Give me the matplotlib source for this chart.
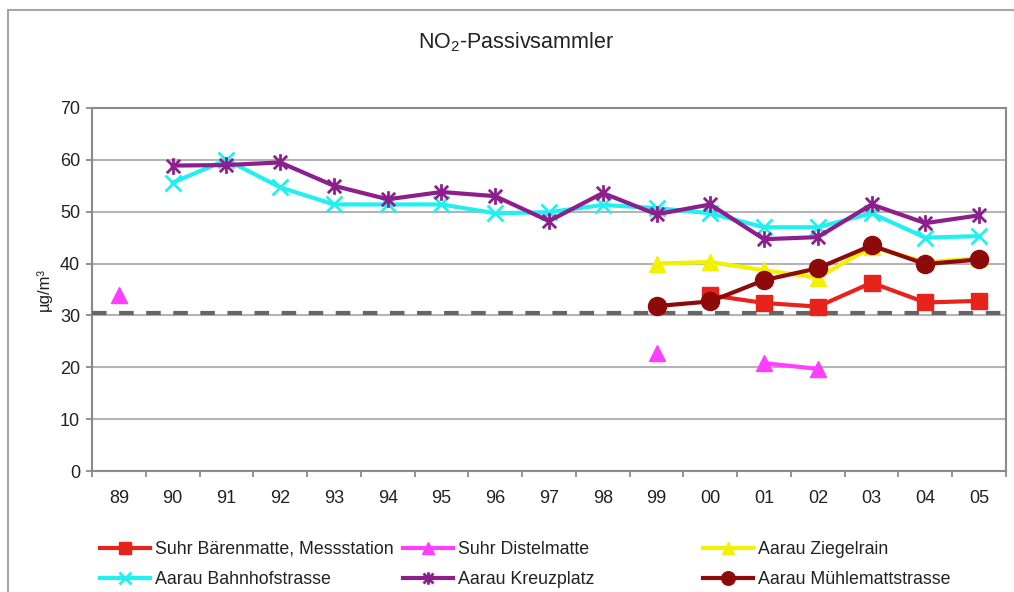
import numpy as np
import matplotlib
matplotlib.use("Agg")
import matplotlib.pyplot as plt
from matplotlib.path import Path
from matplotlib.patches import Rectangle

plt.rcParams['font.family'] = ['Liberation Sans', 'DejaVu Sans']
plt.rcParams['mathtext.fontset'] = 'custom'
plt.rcParams['mathtext.rm'] = 'Liberation Sans'
plt.rcParams['mathtext.it'] = 'Liberation Sans:italic'
plt.rcParams['mathtext.bf'] = 'Liberation Sans:bold'

years = ["89", "90", "91", "92", "93", "94", "95", "96", "97", "98",
         "99", "00", "01", "02", "03", "04", "05"]
nan = np.nan
baerenmatte = [nan, nan, nan, nan, nan, nan, nan, nan, nan, nan,
               nan, 33.9, 32.4, 31.7, 36.3, 32.5, 32.8]
distelmatte = [34.0, nan, nan, nan, nan, nan, nan, nan, nan, nan,
               22.7, nan, 20.8, 19.7, nan, nan, nan]
ziegelrain = [nan, nan, nan, nan, nan, nan, nan, nan, nan, nan,
              40.0, 40.3, 38.7, 37.3, 43.2, 40.3, 41.0]
bahnhofstrasse = [nan, 55.6, 60.0, 54.7, 51.4, 51.4, 51.4, 49.7, 49.9, 51.3,
                  50.7, 49.7, 47.0, 47.0, 49.7, 45.0, 45.3]
kreuzplatz = [nan, 58.9, 59.0, 59.5, 55.0, 52.4, 53.8, 53.0, 48.2, 53.6,
              49.5, 51.4, 44.7, 45.1, 51.4, 47.8, 49.3]
muehlematt = [nan, nan, nan, nan, nan, nan, nan, nan, nan, nan,
              31.8, 32.7, 36.8, 39.1, 43.5, 39.9, 40.8]
limit_value = 30.5

labels = ["Suhr Bärenmatte, Messstation", "Suhr Distelmatte", "Aarau Ziegelrain",
          "Aarau Bahnhofstrasse", "Aarau Kreuzplatz", "Aarau Mühlemattstrasse"]

x = np.arange(len(years))

fig = plt.figure(figsize=(10.14, 5.92), dpi=100)
ax = fig.add_axes([92/1014, 1-471/592, (1006-92)/1014, (471-108)/592])

asterisk = Path([(-1, -1), (1, 1), (-1, 1), (1, -1), (0, -1.25), (0, 1.25)],
                [Path.MOVETO, Path.LINETO, Path.MOVETO, Path.LINETO, Path.MOVETO, Path.LINETO])

lw = 3.0
h1, = ax.plot(x, baerenmatte, color='#E8231C', lw=lw, marker='s', ms=11, zorder=5)
h2, = ax.plot(x, distelmatte, color='#FF3EFF', lw=lw, marker='^', ms=12, zorder=5)
h3, = ax.plot(x, ziegelrain, color='#F2F200', lw=lw, marker='^', ms=12, zorder=4)
h4, = ax.plot(x, bahnhofstrasse, color='#22F0F0', lw=lw, marker='x', ms=11, mew=2, zorder=4)
h5, = ax.plot(x, kreuzplatz, color='#8C1F8C', lw=lw, marker=asterisk, ms=12, mew=2, zorder=5)
h6, = ax.plot(x, muehlematt, color='#8E0A0A', lw=lw, marker='o', ms=13, zorder=6)

ax.axhline(limit_value, xmin=0, xmax=1.005, color='#666666', lw=3, ls=(0, (3.5, 3)),
           clip_on=False, zorder=3)

ax.set_xlim(-0.5, len(years) - 0.5)
ax.set_ylim(0, 70)
ax.set_yticks(np.arange(0, 71, 10))
ax.set_xticks(x)
ax.set_xticklabels(years)
ax.set_xticks(np.arange(-0.5, len(years), 1.0), minor=True)
ax.tick_params(axis='x', which='major', length=0, pad=14, labelsize=13, colors='#222222')
ax.tick_params(axis='x', which='minor', length=4, color='#808080', width=1.2)
ax.tick_params(axis='y', length=4, color='#808080', width=1.2, labelsize=13, pad=4.5,
               labelcolor='#222222')
ax.grid(axis='y', color='#B4B4B4', lw=1.5, zorder=0)
ax.set_axisbelow(True)
for s in ax.spines.values():
    s.set_color('#8A8A8A')
    s.set_linewidth(1.5)

ax.set_ylabel("µg/m³", fontsize=12, color='#222222', labelpad=6)

fig.text(0.509, 1 - 42/592, "NO$_2$-Passivsammler", ha='center', va='center',
         fontsize=15.5, color='#222222')

# outer chart border
fig.patches.append(Rectangle((8/1014, -0.1), 1.2, 1 - 10/592 + 0.1, transform=fig.transFigure,
                             fill=False, ec='#A6A6A6', lw=1.5))

handles = [h1, h2, h3, h4, h5, h6]
col_x = [100, 403, 703]
for c in range(3):
    leg = fig.legend([handles[c], handles[c + 3]], [labels[c], labels[c + 3]],
                     loc='upper left', bbox_to_anchor=(col_x[c]/1014, 1 - 541/592),
                     frameon=False, borderpad=0, borderaxespad=0, fontsize=12.8,
                     handlelength=2.8, handletextpad=0.3, labelspacing=0.75,
                     markerscale=0.75)
    for t in leg.get_texts():
        t.set_color('#222222')

fig.savefig("out.png", dpi=100, facecolor='white')
